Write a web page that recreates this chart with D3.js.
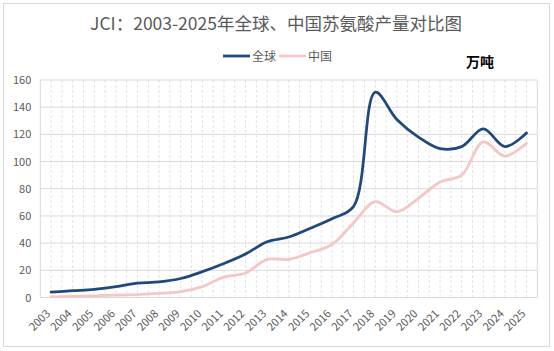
<!DOCTYPE html>
<html lang="zh">
<head>
  <meta charset="UTF-8">
  <title>JCI 苏氨酸产量对比图</title>
  <script src="https://d3js.org/d3.v7.min.js"></script>
  <style>
    body { margin: 0; background: #fff; }
    text { font-family: "Noto Sans CJK SC", "Noto Sans", sans-serif; }
    .axis text { font-size: 11px; fill: #595959; }
  </style>
</head>
<body>
  <svg id="svg" width="554" height="351"></svg>
  <script>
    // 数据
    var years = ['2003', '2004', '2005', '2006', '2007', '2008', '2009', '2010', '2011', '2012', '2013', '2014',
                 '2015', '2016', '2017', '2018', '2019', '2020', '2021', '2022', '2023', '2024', '2025']
    var globalValues = [4, 5, 6, 8, 10.5, 11.5, 14, 19, 25, 32, 41, 44.5, 51, 58, 67, 151, 131, 118, 109.5, 111, 124, 111, 121]
    var chinaValues = [0.5, 0.8, 1.2, 1.8, 2.2, 3, 4.3, 8, 15, 18, 28, 28, 33, 39, 55, 70.5, 63, 73, 85, 90, 114.5, 104, 113.5]
    var yTicks = [0, 20, 40, 60, 80, 100, 120, 140, 160]

    var plot = { left: 40.3, right: 537.3, top: 80, bottom: 297.5 }

    var svg = d3.select('#svg')

    // 图表外框
    svg.append('rect')
      .attr('x', 3.5).attr('y', 3.5)
      .attr('width', 546).attr('height', 343)
      .attr('fill', '#fff')
      .attr('stroke', '#d9d9d9')

    var x = d3.scaleBand()
      .domain(years)
      .range([plot.left, plot.right])

    var y = d3.scaleLinear()
      .domain([0, 160])
      .range([plot.bottom, plot.top])

    // 竖向虚线网格（每半个类别）
    var halfSteps = d3.range(1, years.length * 2)
    svg.append('g')
      .selectAll('line')
      .data(halfSteps)
      .enter()
      .append('line')
      .attr('x1', d => plot.left + d * x.bandwidth() / 2)
      .attr('x2', d => plot.left + d * x.bandwidth() / 2)
      .attr('y1', plot.top)
      .attr('y2', plot.bottom)
      .attr('stroke', '#e3e3e3')
      .attr('stroke-dasharray', '3,2')

    // 横向网格
    svg.append('g')
      .selectAll('line')
      .data(yTicks)
      .enter()
      .append('line')
      .attr('x1', plot.left)
      .attr('x2', plot.right)
      .attr('y1', d => y(d))
      .attr('y2', d => y(d))
      .attr('stroke', '#d9d9d9')

    // 绘图区边线
    svg.append('line')
      .attr('x1', plot.left).attr('x2', plot.left)
      .attr('y1', plot.top).attr('y2', plot.bottom)
      .attr('stroke', '#d9d9d9')
    svg.append('line')
      .attr('x1', plot.right).attr('x2', plot.right)
      .attr('y1', plot.top).attr('y2', plot.bottom)
      .attr('stroke', '#d9d9d9')

    // y 轴
    var yAxis = d3.axisLeft(y).tickValues(yTicks).tickSize(0).tickPadding(9)
    svg.append('g')
      .attr('class', 'axis')
      .attr('transform', 'translate(' + plot.left + ',0)')
      .call(yAxis)
      .call(g => g.select('.domain').remove())
      .selectAll('text')
      .attr('font-size', 11.5)

    // x 轴
    var xAxis = d3.axisBottom(x).tickSize(0)
    svg.append('g')
      .attr('class', 'axis')
      .attr('transform', 'translate(0,' + plot.bottom + ')')
      .call(xAxis)
      .call(g => g.select('.domain').remove())
      .selectAll('text')
      .attr('font-size', 12)
      .attr('text-anchor', 'end')
      .attr('dy', '0.35em')
      .attr('transform', 'translate(-5,12) rotate(-45)')

    // 折线
    var line = d3.line()
      .x((d, i) => x(years[i]) + x.bandwidth() / 2)
      .y(d => y(d))
      .curve(d3.curveCatmullRom)

    svg.append('path')
      .datum(chinaValues)
      .attr('d', line)
      .attr('fill', 'none')
      .attr('stroke', '#f4c6c4')
      .attr('stroke-width', 2.75)
      .attr('stroke-linecap', 'round')

    svg.append('path')
      .datum(globalValues)
      .attr('d', line)
      .attr('fill', 'none')
      .attr('stroke', '#1f497d')
      .attr('stroke-width', 2.75)
      .attr('stroke-linecap', 'round')

    // 标题
    svg.append('text')
      .attr('x', 276)
      .attr('y', 30)
      .attr('text-anchor', 'middle')
      .attr('font-size', 17.5)
      .attr('fill', '#595959')
      .text('JCI：2003-2025年全球、中国苏氨酸产量对比图')

    // 图例
    var legend = [
      { name: '全球', color: '#1f497d', x: 223 },
      { name: '中国', color: '#f4c6c4', x: 279 }
    ]
    var lg = svg.append('g')
    lg.selectAll('line')
      .data(legend)
      .enter()
      .append('line')
      .attr('x1', d => d.x)
      .attr('x2', d => d.x + 27)
      .attr('y1', 56)
      .attr('y2', 56)
      .attr('stroke', d => d.color)
      .attr('stroke-width', 2.75)
    lg.selectAll('text')
      .data(legend)
      .enter()
      .append('text')
      .attr('x', d => d.x + 29)
      .attr('y', 60.5)
      .attr('font-size', 12)
      .attr('fill', '#595959')
      .text(d => d.name)

    // 单位
    svg.append('text')
      .attr('x', 466)
      .attr('y', 67)
      .attr('font-size', 14)
      .attr('font-weight', 'bold')
      .attr('fill', '#000')
      .text('万吨')
  </script>
</body>
</html>
